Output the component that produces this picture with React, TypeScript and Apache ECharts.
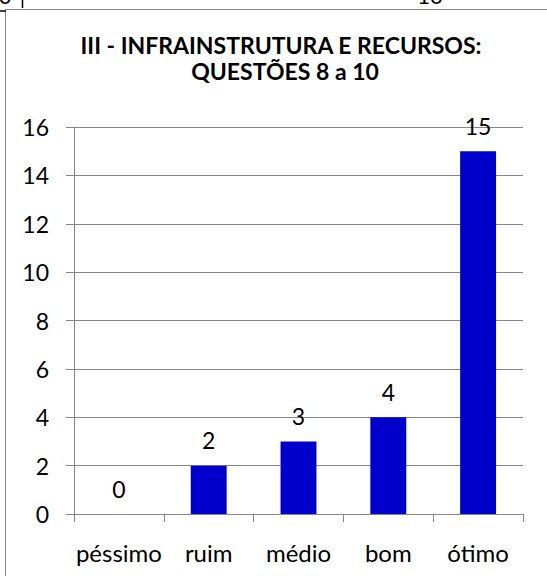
import React, { useEffect, useRef } from "react";
import * as echarts from "echarts";

const categories = ["péssimo", "ruim", "médio", "bom", "ótimo"];
const values = [0, 2, 3, 4, 15];
const titleLines = ["III - INFRAINSTRUTURA E RECURSOS:", "QUESTÕES 8 a 10"];
const yMin = 0;
const yMax = 16;
const yStep = 2;

const FONT = "Lato, 'Open Sans', sans-serif";
const GRAY = "#868686";

export default function App() {
  const ref = useRef<HTMLDivElement>(null);
  useEffect(() => {
    if (!ref.current) return;
    const chart = echarts.init(ref.current, null, { renderer: "svg" });
    chart.setOption({
      animation: false,
      backgroundColor: "#ffffff",
      grid: { left: 74, right: 24, top: 127, bottom: 62, containLabel: false },
      xAxis: {
        type: "category",
        data: categories,
        axisLine: { show: true, lineStyle: { color: GRAY, width: 1 } },
        axisTick: { show: true, length: 8, alignWithLabel: false, interval: 0, lineStyle: { color: GRAY } },
        axisLabel: {
          color: "#000",
          fontFamily: FONT,
          fontSize: 24,
          lineHeight: 24,
          margin: 26,
          interval: 0,
        },
        splitLine: { show: false },
      },
      yAxis: {
        type: "value",
        min: yMin,
        max: yMax,
        interval: yStep,
        axisLine: { show: true, lineStyle: { color: GRAY, width: 1 } },
        axisTick: { show: true, length: 8, lineStyle: { color: GRAY } },
        axisLabel: { color: "#000", fontFamily: FONT, fontSize: 23, margin: 25 },
        splitLine: { show: true, lineStyle: { color: GRAY, width: 1 } },
      },
      series: [
        {
          type: "bar",
          data: values,
          barWidth: "40%",
          itemStyle: { color: "#0000CC" },
          label: {
            show: true,
            position: "top",
            distance: 14,
            color: "#000",
            fontFamily: FONT,
            fontSize: 23,
            lineHeight: 23,
          },
        },
      ],
      graphic: [
        {
          type: "rect",
          shape: { x: 5.5, y: 9.5, width: 600, height: 600 },
          style: { fill: "none", stroke: GRAY, lineWidth: 1 },
          silent: true,
        },
        {
          type: "line",
          shape: { x1: 22.5, y1: 0, x2: 22.5, y2: 8 },
          style: { stroke: "#000", lineWidth: 1.5 },
        },
        {
          type: "line",
          shape: { x1: 0, y1: 11, x2: 6, y2: 11 },
          style: { stroke: "#000", lineWidth: 1.5 },
        },
        {
          type: "text",
          x: 5,
          y: 6,
          style: { text: "0", fill: "#000", font: `22px ${FONT}`, align: "center", verticalAlign: "bottom" },
        },
        {
          type: "text",
          x: 430,
          y: 6,
          style: { text: "10", fill: "#000", font: `22px ${FONT}`, align: "center", verticalAlign: "bottom" },
        },
        {
          type: "text",
          x: 281,
          y: 45,
          style: {
            text: titleLines[0],
            fill: "#000",
            font: `bold 23px ${FONT}`,
            align: "center",
            verticalAlign: "middle",
          },
        },
        {
          type: "text",
          x: 285,
          y: 71,
          style: {
            text: titleLines[1],
            fill: "#000",
            font: `bold 23px ${FONT}`,
            align: "center",
            verticalAlign: "middle",
          },
        },
      ],
    });
    return () => chart.dispose();
  }, []);
  return (
    <div
      ref={ref}
      style={{ position: "fixed", left: 0, top: 0, width: 547, height: 576, background: "#fff" }}
    />
  );
}
